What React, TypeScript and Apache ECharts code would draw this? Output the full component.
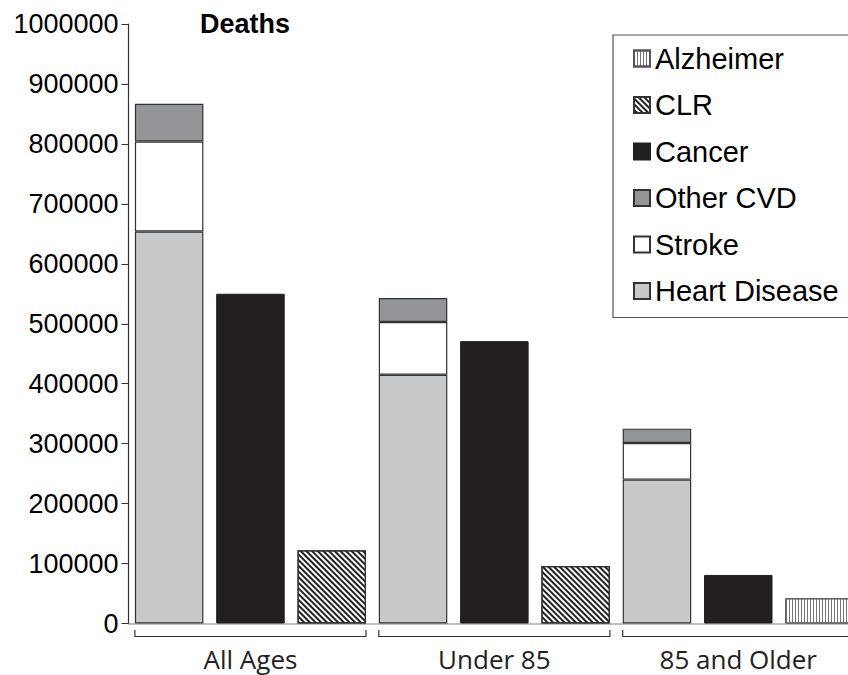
import React, { useEffect, useRef } from "react";
import * as echarts from "echarts";

const groups = ["All Ages", "Under 85", "85 and Older"];
const heartDisease = [654000, 415000, 240000];
const stroke = [150000, 88000, 61000];
const otherCVD = [63000, 40000, 24000];
const cancer = [550000, 471000, 81000];
const clr = [122000, 96000, null];
const alzheimer = [null, null, 42000];
const yTicks = { min: 0, max: 1000000, interval: 100000 };
const legendOrder = ["Alzheimer", "CLR", "Cancer", "Other CVD", "Stroke", "Heart Disease"];

const SLOTS = groups.length * 3;
const slotNames = Array.from({ length: SLOTS }, (_, i) => "s" + i);

function slotData(values: (number | null)[], k: number) {
  const out: any[] = Array(SLOTS).fill("-");
  values.forEach((v, g) => {
    if (v !== null && v !== undefined) out[g * 3 + k] = v;
  });
  return out;
}

const BAND = 81.3;
const BAR_W = 68.5;
const SANS = "'Liberation Sans', Arial, sans-serif";

export default function App() {
  const ref = useRef<HTMLDivElement>(null);
  useEffect(() => {
    if (!ref.current) return;
    const chart = echarts.init(ref.current, undefined, { renderer: "svg" });
    const border = { borderColor: "#333", borderWidth: 1.2 };
    const bar = (name: string, data: any[], itemStyle: any) => ({
      name,
      type: "bar",
      stack: "all",
      barWidth: BAR_W,
      data,
      itemStyle,
    });
    chart.setOption({
      animation: false,
      backgroundColor: "#fff",
      title: {
        text: "Deaths",
        left: 200,
        top: 10,
        padding: 0,
        textStyle: { fontSize: 27, fontWeight: "bold", color: "#000", fontFamily: SANS },
      },
      legend: {
        data: legendOrder,
        orient: "vertical",
        icon: "rect",
        left: 613,
        top: 35,
        padding: [9, 14, 12, 20],
        itemWidth: 16,
        itemHeight: 16,
        itemGap: 17.5,
        borderColor: "#555",
        borderWidth: 1.2,
        textStyle: { fontSize: 29, lineHeight: 28, color: "#000", fontFamily: SANS },
      },
      grid: { left: 128.5, top: 24, width: BAND * SLOTS, height: 599.5, containLabel: false },
      xAxis: [
        {
          type: "category",
          data: slotNames,
          axisLine: { show: true, lineStyle: { color: "#aaa", width: 1.5 } },
          axisTick: { show: false },
          axisLabel: { show: false },
        },
        {
          type: "category",
          data: groups,
          position: "bottom",
          axisLine: { show: false },
          axisTick: { show: false },
          axisLabel: {
            show: true,
            margin: 22,
            fontSize: 26,
            color: "#222",
            fontFamily: "'Open Sans', 'Noto Sans', sans-serif",
          },
        },
      ],
      yAxis: {
        type: "value",
        min: yTicks.min,
        max: yTicks.max,
        interval: yTicks.interval,
        splitLine: { show: false },
        axisLine: { show: true, lineStyle: { color: "#333", width: 1.2 } },
        axisTick: { show: true, length: 7, lineStyle: { color: "#333" } },
        axisLabel: {
          margin: 10,
          fontSize: 27,
          color: "#000",
          fontFamily: SANS,
          formatter: (v: number) => String(v),
        },
      },
      series: [
        bar("Heart Disease", slotData(heartDisease, 0), { color: "#c8c9cb", ...border }),
        bar("Stroke", slotData(stroke, 0), { color: "#ffffff", ...border }),
        bar("Other CVD", slotData(otherCVD, 0), { color: "#939598", ...border }),
        bar("Cancer", slotData(cancer, 1), { color: "#231f20", borderColor: "#231f20", borderWidth: 1 }),
        bar("CLR", slotData(clr, 2), {
          color: "#ffffff",
          borderColor: "#333",
          borderWidth: 1.2,
          decal: {
            symbol: "rect",
            symbolSize: 1,
            color: "#222",
            backgroundColor: "#fff",
            dashArrayX: [1, 0],
            dashArrayY: [1.6, 2],
            rotation: Math.PI / 4,
          },
        }),
        bar("Alzheimer", slotData(alzheimer, 2), {
          color: "#ffffff",
          borderColor: "#555",
          borderWidth: 1,
          decal: {
            symbol: "rect",
            symbolSize: 1,
            color: "#777",
            backgroundColor: "#fff",
            dashArrayX: [1, 2],
            dashArrayY: [1, 0],
            rotation: 0,
          },
        }),
        {
          type: "custom",
          name: "brackets",
          xAxisIndex: 0,
          yAxisIndex: 0,
          silent: true,
          clip: false,
          encode: { x: [0, 1], y: 2 },
          data: groups.map((_, g) => [g * 3, g * 3 + 2, 0]),
          renderItem: (params: any, api: any) => {
            const s = api.value(0);
            const e = api.value(1);
            const p1 = api.coord([s, 0]);
            const p2 = api.coord([e, 0]);
            const half = (api.size([1, 0])[0] * (BAR_W / BAND)) / 2;
            const x1 = p1[0] - half;
            const x2 = p2[0] + half;
            const y = p1[1] + 13;
            return {
              type: "polyline",
              shape: { points: [[x1, y - 6.5], [x1, y], [x2, y], [x2, y - 6.5]] },
              style: { stroke: "#333", lineWidth: 1.2, fill: null },
            };
          },
        },
      ],
    });
    return () => chart.dispose();
  }, []);
  return (
    <div
      style={{
        position: "fixed",
        left: 0,
        top: 0,
        width: 848,
        height: 675,
        overflow: "hidden",
        background: "#fff",
      }}
    >
      <div ref={ref} style={{ width: 880, height: 675 }} />
    </div>
  );
}
